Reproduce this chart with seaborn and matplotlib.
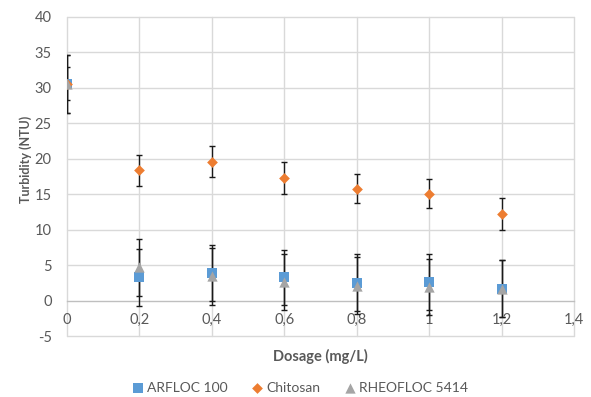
import numpy as np
import pandas as pd
import matplotlib
matplotlib.use("Agg")
import matplotlib.pyplot as plt
import seaborn as sns
from matplotlib.ticker import FuncFormatter, MultipleLocator

# ---- data ----
dosage = [0.0, 0.2, 0.4, 0.6, 0.8, 1.0, 1.2]
arfloc = [30.6, 3.3, 3.9, 3.3, 2.5, 2.6, 1.7]
arfloc_err = [4.1, 4.0, 3.9, 3.9, 4.0, 3.9, 4.0]
chitosan = [30.6, 18.4, 19.6, 17.3, 15.8, 15.1, 12.2]
chitosan_err = [2.3, 2.2, 2.2, 2.2, 2.1, 2.1, 2.2]
rheofloc = [30.6, 4.7, 3.4, 2.6, 2.1, 1.9, 1.7]
rheofloc_err = [4.1, 4.0, 4.0, 4.0, 4.0, 4.0, 4.0]
series_names = ["ARFLOC 100", "Chitosan", "RHEOFLOC 5414"]
colors = {"ARFLOC 100": "#5B9BD5", "Chitosan": "#ED7D31", "RHEOFLOC 5414": "#A5A5A5"}
markers = {"ARFLOC 100": "s", "Chitosan": "D", "RHEOFLOC 5414": "^"}
sizes_pt = {"ARFLOC 100": 50, "Chitosan": 30, "RHEOFLOC 5414": 55}

values = {"ARFLOC 100": (arfloc, arfloc_err),
          "Chitosan": (chitosan, chitosan_err),
          "RHEOFLOC 5414": (rheofloc, rheofloc_err)}

rows = []
for name in series_names:
    v, e = values[name]
    for x, y, err in zip(dosage, v, e):
        rows.append({"Dosage": x, "Turbidity": y, "err": err, "Series": name})
df = pd.DataFrame(rows)

sns.set_theme(style="white")
plt.rcParams["font.family"] = ["Lato", "DejaVu Sans"]

fig = plt.figure(figsize=(5.91, 3.97), dpi=100)
ax = fig.add_axes([67/591, 1-336/397, (574-67)/591, (336-17)/397])

# error bars
for name in series_names:
    sub = df[df.Series == name]
    ax.errorbar(sub.Dosage, sub.Turbidity, yerr=sub.err, fmt="none",
                ecolor="#1a1a1a", elinewidth=1.0, capsize=2.5, capthick=1.0, zorder=3)

# markers
for name in series_names:
    sub = df[df.Series == name]
    sns.scatterplot(data=sub, x="Dosage", y="Turbidity", ax=ax, color=colors[name],
                    marker=markers[name], s=sizes_pt[name], linewidth=0,
                    label=name, zorder=4)

ax.set_xlim(0, 1.4)
ax.set_ylim(-5, 40)
ax.xaxis.set_major_locator(MultipleLocator(0.2))
ax.yaxis.set_major_locator(MultipleLocator(5))
ax.xaxis.set_major_formatter(FuncFormatter(lambda v, p: ("%g" % round(v, 1)).replace(".", ",")))
ax.yaxis.set_major_formatter(FuncFormatter(lambda v, p: "%d" % v))

ax.grid(False)
for yv in np.arange(-5, 41, 5):
    if yv != 0:
        ax.axhline(yv, color="#D9D9D9", linewidth=1.0, zorder=0, clip_on=False)
for xv in np.arange(0, 1.41, 0.2):
    ax.axvline(xv, color="#D9D9D9", linewidth=1.0, zorder=0, clip_on=False)

for s in ["top", "right", "left"]:
    ax.spines[s].set_visible(False)
ax.spines["bottom"].set_position(("data", 0))
ax.spines["bottom"].set_color("#BFBFBF")
ax.spines["bottom"].set_linewidth(1.0)
ax.spines["bottom"].set_zorder(1)

ax.tick_params(axis="both", length=0, labelsize=10.5, labelcolor="#595959")
ax.tick_params(axis="x", pad=9)
ax.tick_params(axis="y", pad=11)

ax.set_xlabel("Dosage (mg/L)", fontsize=10.5, fontweight="bold", color="#595959")
ax.set_ylabel("Turbidity (NTU)", fontsize=9, fontweight="bold", color="#595959")
ax.xaxis.set_label_coords(0.5, (336 - 349) / 319)
ax.yaxis.set_label_coords(-0.069, (336 - 159) / 319)

leg = ax.legend(loc="center", bbox_to_anchor=((300 - 67) / 507, (336 - 388) / 319), ncol=3,
                frameon=False, fontsize=10, handletextpad=0.2, columnspacing=1.7,
                handlelength=0.9, borderaxespad=0)
for t in leg.get_texts():
    t.set_color("#595959")

fig.savefig("out.png", dpi=100)
